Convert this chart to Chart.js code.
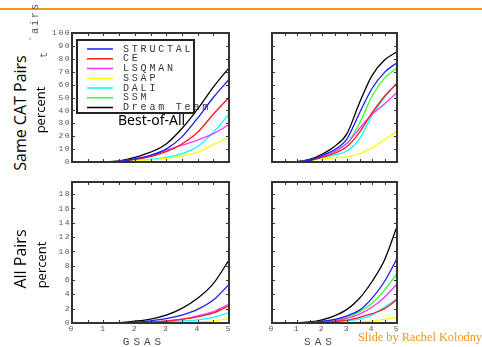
<!DOCTYPE html>
<html>
<head>
<meta charset="utf-8">
<script src="https://cdn.jsdelivr.net/npm/chart.js@4"></script>
<style>
  html, body { margin: 0; padding: 0; background: #fff; }
  #page { position: relative; width: 482px; height: 347px; overflow: hidden; }
  #page canvas { position: absolute; }
  .txt { position: absolute; white-space: nowrap; }
  .rot { transform: translate(-50%, -50%) rotate(-90deg); }
  .ctr { transform: translate(-50%, -50%); }
</style>
</head>
<body>
<div id="page">
  <div style="position:absolute;left:0;top:8px;width:482px;height:2px;background:#f7931e"></div>

  <canvas id="tl" style="left:40px;top:26px" width="197" height="152"></canvas>
  <canvas id="tr" style="left:232px;top:26px" width="173" height="152"></canvas>
  <canvas id="bl" style="left:40px;top:175px" width="197" height="160"></canvas>
  <canvas id="br" style="left:232px;top:175px" width="173" height="160"></canvas>

  <div class="txt rot" style="left:20px;top:113px;font:16px 'Open Sans';color:#000">Same CAT Pairs</div>
  <div class="txt rot" style="left:40px;top:110px;font:13px 'Open Sans';color:#000">percent</div>
  <div class="txt rot" style="left:35px;top:22px;font:10px 'Liberation Mono';letter-spacing:2px;color:#555">`airs</div>
  <div class="txt rot" style="left:44px;top:55px;font:10px 'Liberation Mono';color:#555">t</div>
  <div class="txt rot" style="left:20px;top:259px;font:16px 'Open Sans';color:#000">All Pairs</div>
  <div class="txt rot" style="left:41px;top:265px;font:13px 'Open Sans';color:#000">percent</div>
  <div class="txt" style="left:118px;top:110px;font:14px 'Noto Sans';color:#000">Best-of-All</div>
  <div class="txt ctr" style="left:144px;top:342px;font:11px 'Liberation Mono';letter-spacing:4px;color:#444">GSAS</div>
  <div class="txt ctr" style="left:320px;top:342px;font:11px 'Liberation Mono';letter-spacing:4px;color:#444">SAS</div>
  <div class="txt" style="left:358px;top:330px;font:12.3px 'Liberation Serif';color:#f7931e">Slide by Rachel Kolodny</div>
</div>

<script>
// score thresholds on the x axis
var xs = [0, 0.5, 1, 1.5, 2, 2.5, 3, 3.5, 4, 4.5, 5];

var methods = ['STRUCTAL', 'CE', 'LSQMAN', 'SSAP', 'DALI', 'SSM', 'Dream Team'];
var colors = ['#1a1aff', '#ff1a1a', '#ff33ff', '#ffff00', '#00ffff', '#33ff33', '#000000'];

// same CAT pairs, GSAS (percent)
var gsasSame = [
  [0, 0, 0.1, 0.5, 2.5, 5.2, 10, 19.5, 34, 50, 64],   // STRUCTAL
  [0, 0, 0.1, 0.5, 2, 4.2, 8, 14, 23, 37, 50],        // CE
  [0, 0, 0.1, 0.5, 2.2, 5, 9, 13, 17, 22, 29],        // LSQMAN
  [0, 0, 0, 0.3, 0.8, 1.6, 2.8, 4.7, 7.6, 13.5, 19],  // SSAP
  [0, 0, 0, 0.3, 1, 2, 3.5, 6.5, 12, 23, 37],         // DALI
  [0, 0, 0, 0, 0, 0, 0, 0, 0, 0, 0],                  // SSM
  [0, 0, 0.1, 0.8, 3.5, 7.6, 14, 26, 41, 58, 73]      // Dream Team
];

// same CAT pairs, SAS (percent)
var sasSame = [
  [0, 0, 0.3, 1.2, 5, 9.5, 18, 38, 57, 69.5, 77],
  [0, 0, 0.3, 1.2, 3.5, 6.8, 12, 23, 38, 51, 61],
  [0, 0, 0.3, 1.2, 4, 8, 14.5, 26, 37, 45, 54],
  [0, 0, 0.2, 1, 2.5, 3.3, 4, 6.4, 11, 17, 24],
  [0, 0, 0.2, 1, 3.5, 5.5, 8.5, 18, 36, 50, 61],
  [0, 0, 0.3, 1.2, 4.5, 8.5, 14.5, 30, 51, 65, 73],
  [0, 0, 0.3, 2, 6, 12, 22, 46, 67, 79, 85.5]
];

// all pairs, GSAS (percent)
var gsasAll = [
  [0, 0, 0, 0.02, 0.12, 0.3, 0.6, 1.1, 1.9, 3.2, 5.4],
  [0, 0, 0, 0.01, 0.05, 0.12, 0.25, 0.5, 0.85, 1.4, 2.4],
  [0, 0, 0, 0.01, 0.05, 0.15, 0.3, 0.55, 1, 1.6, 2.6],
  [0, 0, 0, 0, 0.01, 0.02, 0.03, 0.05, 0.15, 0.3, 0.6],
  [0, 0, 0, 0, 0.02, 0.05, 0.15, 0.3, 0.45, 0.8, 1.45],
  [0, 0, 0, 0, 0, 0, 0, 0, 0, 0, 0],
  [0, 0, 0, 0.05, 0.25, 0.55, 1.1, 2.05, 3.45, 5.5, 8.8]
];

// all pairs, SAS (percent)
var sasAll = [
  [0, 0, 0.01, 0.05, 0.25, 0.5, 1, 1.8, 3.45, 5.8, 9],
  [0, 0, 0.01, 0.03, 0.1, 0.2, 0.4, 0.8, 1.3, 2, 3.3],
  [0, 0, 0.01, 0.05, 0.15, 0.3, 0.65, 1.25, 2.2, 3.6, 5.45],
  [0, 0, 0, 0.01, 0.02, 0.04, 0.08, 0.15, 0.3, 0.5, 0.8],
  [0, 0, 0.01, 0.03, 0.08, 0.15, 0.3, 0.55, 1.1, 2.2, 3.35],
  [0, 0, 0.01, 0.05, 0.2, 0.4, 0.8, 1.55, 2.75, 4.6, 6.9],
  [0, 0, 0.02, 0.15, 0.45, 1, 1.9, 3.45, 5.8, 8.8, 13.5]
];

var topTicks = [0, 10, 20, 30, 40, 50, 60, 70, 80, 90, 100];
var bottomTicks = [0, 2, 4, 6, 8, 10, 12, 14, 16, 18];
var xTicks = [0, 1, 2, 3, 4, 5];

// spaced-out tick digits like the original
var spacing = {
  id: 'spacing',
  beforeDraw: function (chart) { chart.ctx.letterSpacing = '1.5px'; }
};

// box with small inward ticks on every side
var frame = {
  id: 'frame',
  afterDatasetsDraw: function (chart, args, opts) {
    var ctx = chart.ctx, a = chart.chartArea;
    var sx = chart.scales.x, sy = chart.scales.y;
    ctx.save();
    ctx.strokeStyle = '#333';
    ctx.lineWidth = 1;
    ctx.beginPath();
    for (var v = 0; v <= 5; v += 0.5) {
      var px = Math.round(sx.getPixelForValue(v)) + 0.5;
      ctx.moveTo(px, a.top); ctx.lineTo(px, a.top + 3);
      ctx.moveTo(px, a.bottom); ctx.lineTo(px, a.bottom - 3);
    }
    opts.yTicks.forEach(function (t) {
      var py = Math.round(sy.getPixelForValue(t)) + 0.5;
      ctx.moveTo(a.left, py); ctx.lineTo(a.left + 3, py);
      ctx.moveTo(a.right, py); ctx.lineTo(a.right - 3, py);
    });
    ctx.stroke();
    ctx.lineWidth = 2;
    ctx.strokeRect(a.left, a.top, a.right - a.left, a.bottom - a.top);
    ctx.restore();
  }
};

// legend box drawn inside the first panel
var boxLegend = {
  id: 'boxLegend',
  afterDatasetsDraw: function (chart, args, opts) {
    if (!opts.show) return;
    var ctx = chart.ctx, a = chart.chartArea;
    var bx = a.left + 5, by = a.top + 7, bw = 117, bh = 73;
    ctx.save();
    ctx.fillStyle = '#fff';
    ctx.fillRect(bx, by, bw, bh);
    ctx.strokeStyle = '#222';
    ctx.lineWidth = 2;
    ctx.strokeRect(bx, by, bw, bh);
    ctx.font = '10px "Liberation Mono"';
    ctx.letterSpacing = '2.8px';
    ctx.textBaseline = 'middle';
    chart.data.datasets.forEach(function (ds, i) {
      var y = by + 9 + i * 9.75;
      ctx.strokeStyle = ds.borderColor;
      ctx.lineWidth = 1.5;
      ctx.beginPath();
      ctx.moveTo(bx + 10, y); ctx.lineTo(bx + 36, y);
      ctx.stroke();
      ctx.fillStyle = '#333';
      ctx.fillText(ds.label, bx + 46, y);
    });
    ctx.restore();
  }
};

function makeChart(id, series, yMax, yTicks, opt) {
  var datasets = methods.map(function (m, i) {
    return {
      label: m,
      data: xs.map(function (x, j) { return { x: x, y: series[i][j] }; }),
      borderColor: colors[i],
      borderWidth: 1.3,
      pointRadius: 0,
      fill: false,
      cubicInterpolationMode: 'monotone'
    };
  });
  var tickFont = { family: 'Liberation Mono', size: 8 };
  return new Chart(document.getElementById(id), {
    type: 'line',
    data: { datasets: datasets },
    options: {
      responsive: false,
      animation: false,
      layout: { padding: opt.padding },
      scales: {
        x: {
          type: 'linear', min: 0, max: 5,
          display: opt.showX,
          afterFit: function (s) { s.height = 12; },
          grid: { display: false, drawTicks: false },
          border: { display: false },
          ticks: { font: tickFont, color: '#555', padding: 1, maxRotation: 0, autoSkip: false },
          afterBuildTicks: function (s) { s.ticks = xTicks.map(function (v) { return { value: v }; }); }
        },
        y: {
          min: 0, max: yMax,
          display: opt.showY,
          afterFit: function (s) { s.width = 32; },
          grid: { display: false, drawTicks: false },
          border: { display: false },
          ticks: { font: tickFont, color: '#555', padding: 1, autoSkip: false },
          afterBuildTicks: function (s) { s.ticks = yTicks.map(function (v) { return { value: v }; }); }
        }
      },
      plugins: {
        legend: { display: false },
        tooltip: { enabled: false },
        frame: { yTicks: yTicks },
        boxLegend: { show: !!opt.legend }
      }
    },
    plugins: [spacing, frame, boxLegend]
  });
}

makeChart('tl', gsasSame, 100, topTicks,
  { showX: false, showY: true, legend: true, padding: { top: 7, right: 8, bottom: 4, left: 0 } });
makeChart('tr', sasSame, 100, topTicks,
  { showX: false, showY: false, padding: { top: 7, right: 8, bottom: 4, left: 8 } });
makeChart('bl', gsasAll, 19.7, bottomTicks,
  { showX: true, showY: true, padding: { top: 7, right: 8, bottom: 0, left: 0 } });
makeChart('br', sasAll, 19.7, bottomTicks,
  { showX: true, showY: false, padding: { top: 7, right: 8, bottom: 0, left: 8 } });
</script>
</body>
</html>
